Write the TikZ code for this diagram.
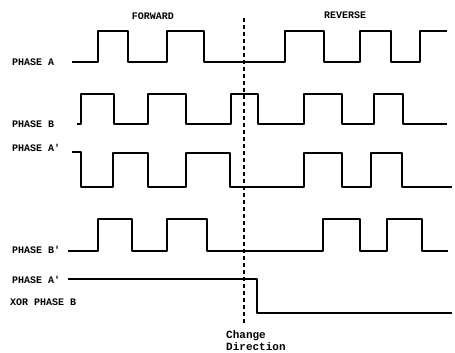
\documentclass[tikz,border=0pt]{standalone}
\usepackage{fontspec}
\setmonofont{Liberation Mono}
\usepackage{tikz}

\begin{document}
\begin{tikzpicture}[x=1pt,y=-1pt,
    lbl/.style={anchor=west,inner sep=0pt,font=\ttfamily\bfseries\fontsize{10}{12}\selectfont},
    hdr/.style={inner sep=0pt,font=\ttfamily\bfseries\fontsize{10}{12}\selectfont},
    wave/.style={line width=1.5pt,line join=round},
    chgline/.style={line width=1.4pt,dash pattern=on 4pt off 3pt}]
  \useasboundingbox (0,0) rectangle (455,353);
  % headings
  \node[hdr] (fwd) at (153,16) {FORWARD};
  \node[hdr] (rev) at (345,15) {REVERSE};
  % signal names
  \node[lbl] (phA) at (12,62) {PHASE A};
  \node[lbl] (phB) at (12,124) {PHASE B};
  \node[lbl] (phAp) at (12,148) {PHASE A'};
  \node[lbl] (phBp) at (12,250) {PHASE B'};
  \node[lbl] (xorA) at (12,280) {PHASE A'};
  \node[lbl] (xorB) at (10,302) {XOR PHASE B};
  % waveforms
  \draw[wave] (72,62) -| (98,31) -| (128,62) -| (167,31) -| (204,62) -| (285,31)
    -| (324,62) -| (360,31) -| (391,62) -| (420,31) -- (447,31);
  \draw[wave] (77,124) -| (81,94) -| (114,124) -| (148,94) -| (186,124) -| (231,94)
    -| (258,124) -| (304,94) -| (342,124) -| (374,94) -| (403,124) -- (447,124);
  \draw[wave] (72,152) -| (81,187) -| (113,153) -| (148,187) -| (186,153) -| (230,187)
    -| (304,153) -| (342,187) -| (371,153) -| (402,187) -- (452,187);
  \draw[wave] (68,251) -| (98,219) -| (132,251) -| (167,219) -| (207,251) -| (323,219)
    -| (360,251) -| (387,219) -| (422,251) -- (448,251);
  \draw[wave] (68,279) -| (257,313) -- (452,313);
  % change of direction
  \coordinate (cdtop) at (244,18);
  \coordinate (cdbot) at (244,325);
  \draw[chgline] (cdtop) -- (cdbot);
  \node[anchor=north west,inner sep=0pt,align=left,
    font=\ttfamily\bfseries\fontsize{11}{12}\selectfont] (chg) at (226,330) {Change\\Direction};
\end{tikzpicture}
\end{document}
